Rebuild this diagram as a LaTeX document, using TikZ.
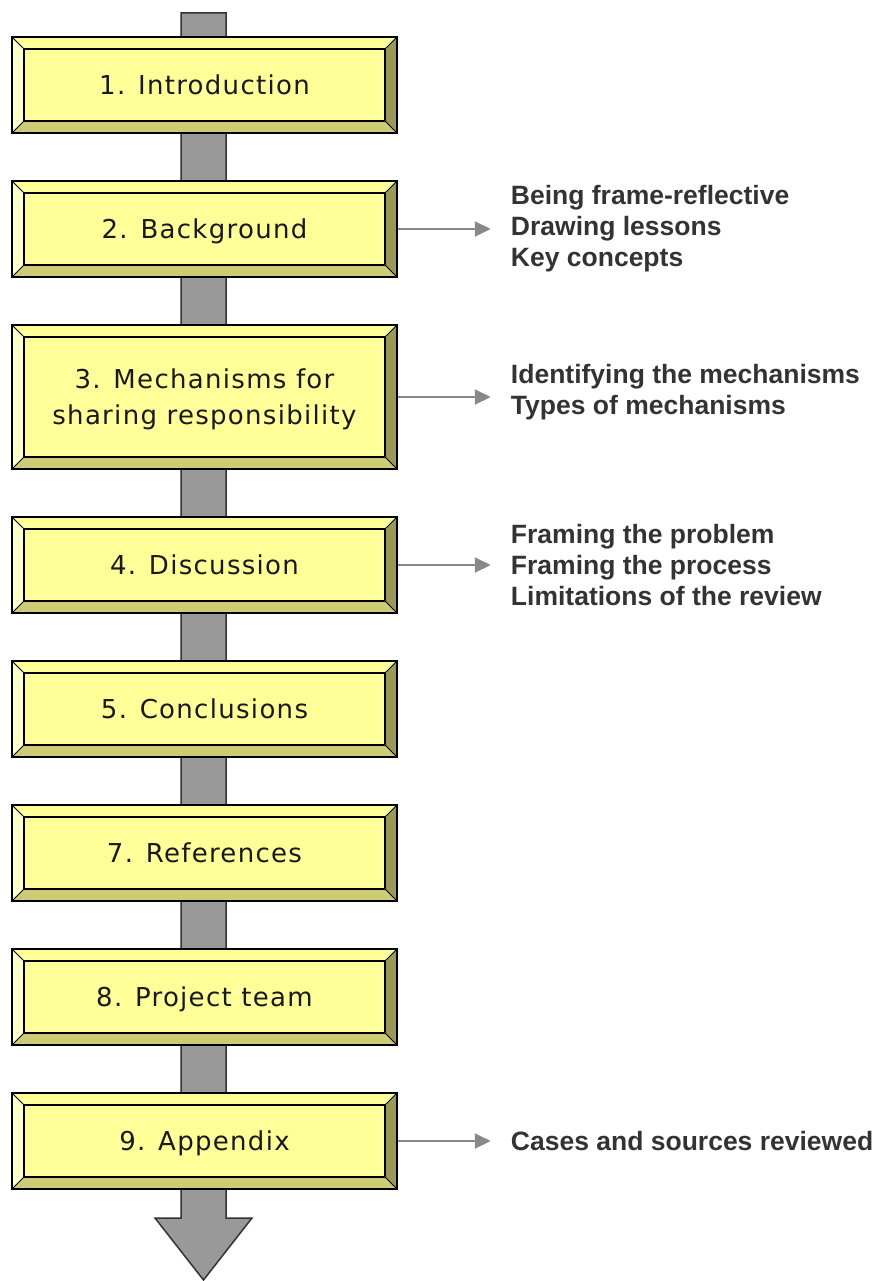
\documentclass[tikz,border=0pt]{standalone}
\usepackage{fontspec}
\setmainfont{DejaVu Sans}
\newfontfamily\boxfont[LetterSpace=5]{DejaVu Sans}
\newfontfamily\notefont{Liberation Sans}
\usetikzlibrary{positioning,arrows.meta}
\definecolor{face}{HTML}{FFFF99}
\definecolor{bevleft}{HTML}{FFFFCC}
\definecolor{bevright}{HTML}{999955}
\definecolor{bevbottom}{HTML}{CCCC77}
\definecolor{shaftgray}{HTML}{999999}
\definecolor{notegray}{HTML}{333333}
\definecolor{linkgray}{HTML}{888888}
\tikzset{
  section/.style={draw,line width=1.5pt,fill=face,minimum width=385pt,minimum height=96pt,
    inner sep=0pt,text depth=0pt,align=center,text=black!90,
    font=\boxfont\fontsize{26}{36}\selectfont,
    path picture={
      \path (path picture bounding box.south west) coordinate (bsw)
            (path picture bounding box.north east) coordinate (bne)
            ([shift={(12pt,12pt)}]bsw) coordinate (isw)
            ([shift={(-12pt,-12pt)}]bne) coordinate (ine);
      \fill[bevleft] (bsw) -- (isw) -- (isw|-ine) -- (bsw|-bne) -- cycle;
      \fill[bevright] (bne) -- (ine) -- (ine|-isw) -- (bne|-bsw) -- cycle;
      \fill[bevbottom] (bsw) -- (isw) -- (ine|-isw) -- (bne|-bsw) -- cycle;
      \draw[line width=1.4pt] (isw) rectangle (ine);
      \draw[line width=0.8pt] (bsw) -- (isw) (bne) -- (ine)
            (bsw|-bne) -- (isw|-ine) (bne|-bsw) -- (ine|-isw);
    }},
  notes/.style={inner sep=0pt,align=left,text=notegray,
    font=\notefont\bfseries\fontsize{26.5}{31}\selectfont},
  link/.style={draw=linkgray,line width=2pt,-{Triangle[length=16pt,width=15pt]},shorten >=20pt},
  shaft/.style={draw=black!80,line width=1.5pt,fill=shaftgray}
}

\begin{document}
\begin{tikzpicture}[x=1pt,y=1pt]
        \useasboundingbox (0,0) rectangle (879,-1281);
        % main flow arrow behind the sections
        \draw[shaft] (181,-13) -- (226,-13) -- (226,-1218) -- (252,-1218) -- (203.5,-1280)
              -- (155,-1218) -- (181,-1218) -- cycle;

        \node[section](intro)at(204.5,-85){1. Introduction};
        \node[section](backg)at(204.5,-229){2. Background};
        \node[section,minimum height=144pt](mech)at(204.5,-397){3. Mechanisms for\\sharing responsibility};
        \node[section](disc)at(204.5,-565){4. Discussion};
        \node[section](concl)at(204.5,-709){5. Conclusions};
        \node[section](refs)at(204.5,-853){7. References};
        \node[section](team)at(204.5,-997){8. Project team};
        \node[section](appx)at(204.5,-1141){9. Appendix};

        \node[notes,right=113pt of backg](backgnotes){Being frame-reflective\\Drawing lessons\\Key concepts};
        \node[notes,right=113pt of mech,yshift=5pt](mechnotes){Identifying the mechanisms\\Types of mechanisms};
        \node[notes,right=113pt of disc](discnotes){Framing the problem\\Framing the process\\Limitations of the review};
        \node[notes,right=113pt of appx](appxnotes){Cases and sources reviewed};

        \draw[link] (backg.east) -- (backg.east-|backgnotes.west);
        \draw[link] (mech.east) -- (mech.east-|mechnotes.west);
        \draw[link] (disc.east) -- (disc.east-|discnotes.west);
        \draw[link] (appx.east) -- (appx.east-|appxnotes.west);
    \end{tikzpicture}
\end{document}
